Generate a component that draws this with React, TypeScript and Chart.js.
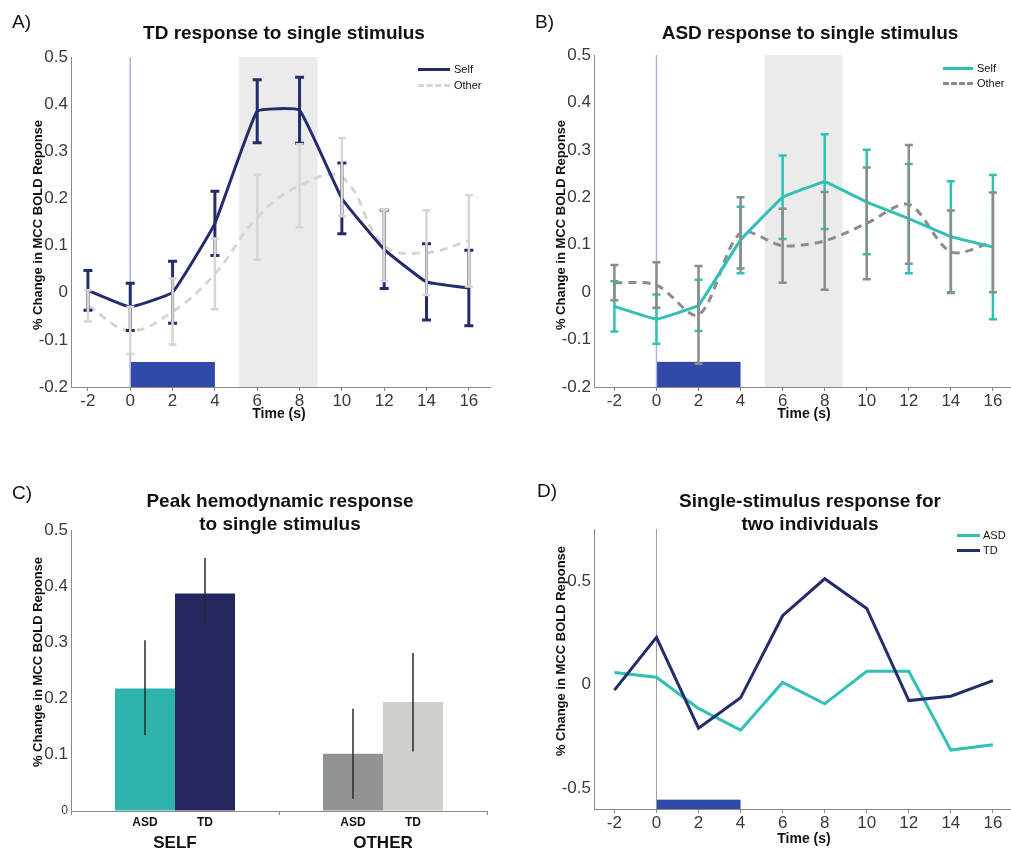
import React, { useEffect, useRef } from 'react';
import { Chart, registerables } from 'chart.js';
Chart.register(...registerables);

const FONT = "'Liberation Sans', Arial, sans-serif";
const W = 1011;
const H = 850;

// ---------- data ----------
const timeSec = [-2, 0, 2, 4, 6, 8, 10, 12, 14, 16];
const timeTicks = [-2, 0, 2, 4, 6, 8, 10, 12, 14, 16];

const tdSelf = [0.005, -0.03, 0.001, 0.147, 0.385, 0.387, 0.2, 0.092, 0.023, 0.01];
const tdSelfErr = [0.042, 0.05, 0.066, 0.068, 0.067, 0.07, 0.075, 0.083, 0.081, 0.08];
const tdOther = [-0.028, -0.08, -0.04, 0.04, 0.16, 0.227, 0.245, 0.1, 0.085, 0.11];
const tdOtherErr = [0.033, 0.05, 0.07, 0.075, 0.09, 0.088, 0.083, 0.075, 0.09, 0.097];

const asdSelf = [-0.03, -0.057, -0.028, 0.11, 0.2, 0.233, 0.19, 0.155, 0.117, 0.095];
const asdSelfErr = [0.053, 0.052, 0.054, 0.07, 0.088, 0.1, 0.11, 0.115, 0.117, 0.152];
const asdOther = [0.02, 0.015, -0.048, 0.125, 0.098, 0.108, 0.145, 0.185, 0.085, 0.105];
const asdOtherErr = [0.037, 0.048, 0.103, 0.075, 0.078, 0.103, 0.118, 0.125, 0.087, 0.105];

const groupYTicks = [-0.2, -0.1, 0, 0.1, 0.2, 0.3, 0.4, 0.5];

const peakGroups = ['SELF', 'OTHER'];
const peakSubLabels = ['ASD', 'TD'];
const peakAsd = [0.218, 0.102];
const peakTd = [0.387, 0.194];
const peakAsdLow = [0.135, 0.022];
const peakAsdHigh = [0.304, 0.182];
const peakTdLow = [0.328, 0.106];
const peakTdHigh = [0.45, 0.281];
const peakYTicks = [0, 0.1, 0.2, 0.3, 0.4, 0.5];

const indivAsd = [0.058, 0.035, -0.115, -0.22, 0.01, -0.093, 0.064, 0.064, -0.316, -0.29];
const indivTd = [-0.027, 0.228, -0.21, -0.064, 0.332, 0.51, 0.367, -0.077, -0.056, 0.019];
const indivYTicks = [-0.5, 0, 0.5];

const stimulusWindow = [0, 4];
const peakWindow = [5.15, 8.85];

// ---------- colours ----------
const NAVY = '#242d6c';
const TEAL = '#2fc1b5';
const LIGHT_OTHER = '#d8d6cf';
const GRAY_OTHER = '#8c8c8c';
const SHADE = '#ebebeb';
const STIM = '#3149a9';
const ZERO_AB = '#aab3dc';
const AXIS = '#8a8a8a';
const TICK_COL = '#3a3a3a';
const TEAL_BAR = '#2eb3ad';
const NAVY_BAR = '#25285f';
const GRAY_BAR = '#8f9393';
const LIGHT_BAR = '#d2cec9';

type Rect = { l: number; t: number; r: number; b: number };
const Y_AXIS_W = 60;

function pad(area: Rect, xh: number) {
  return { left: area.l - Y_AXIS_W, top: area.t, right: W - area.r, bottom: H - area.b - xh };
}

const fmt = (v: number) => String(Math.round(v * 10) / 10);

function pts(xs: number[], ys: number[]) {
  return xs.map((x, i) => ({ x, y: ys[i] }));
}

type ErrSet = { mean: number[]; err: number[]; color: string; width: number; cap: number };

function errorBarPlugin(sets: ErrSet[]) {
  return {
    id: 'errBars',
    afterDatasetsDraw(chart: any) {
      const { ctx } = chart;
      const xs = chart.scales.x;
      const ys = chart.scales.y;
      ctx.save();
      ctx.setLineDash([]);
      sets.forEach((s) => {
        ctx.strokeStyle = s.color;
        ctx.lineWidth = s.width;
        timeSec.forEach((t, i) => {
          const px = xs.getPixelForValue(t);
          const top = ys.getPixelForValue(s.mean[i] + s.err[i]);
          const bot = ys.getPixelForValue(s.mean[i] - s.err[i]);
          ctx.beginPath();
          ctx.moveTo(px, top);
          ctx.lineTo(px, bot);
          ctx.moveTo(px - s.cap / 2, top);
          ctx.lineTo(px + s.cap / 2, top);
          ctx.moveTo(px - s.cap / 2, bot);
          ctx.lineTo(px + s.cap / 2, bot);
          ctx.stroke();
        });
      });
      ctx.restore();
    },
  };
}

function backgroundPlugin(o: { shade: boolean; zeroColor: string; zeroWidth: number; stimTop: number }) {
  return {
    id: 'bgMarks',
    beforeDatasetsDraw(chart: any) {
      const { ctx, chartArea } = chart;
      const xs = chart.scales.x;
      const ys = chart.scales.y;
      ctx.save();
      if (o.shade) {
        const a = xs.getPixelForValue(peakWindow[0]);
        const b = xs.getPixelForValue(peakWindow[1]);
        ctx.fillStyle = SHADE;
        ctx.fillRect(a, chartArea.top, b - a, chartArea.bottom - chartArea.top);
      }
      const s0 = xs.getPixelForValue(stimulusWindow[0]);
      const s1 = xs.getPixelForValue(stimulusWindow[1]);
      const st = ys.getPixelForValue(o.stimTop);
      ctx.fillStyle = STIM;
      ctx.fillRect(s0, st, s1 - s0, chartArea.bottom - st);
      ctx.strokeStyle = o.zeroColor;
      ctx.lineWidth = o.zeroWidth;
      ctx.beginPath();
      ctx.moveTo(s0, chartArea.top);
      ctx.lineTo(s0, chartArea.bottom);
      ctx.stroke();
      ctx.restore();
    },
  };
}

function timeScales(xmin: number, xmax: number, ymin: number, ymax: number, yTicks: number[]) {
  return {
    x: {
      type: 'linear',
      min: xmin,
      max: xmax,
      afterBuildTicks: (s: any) => {
        s.ticks = timeTicks.map((v) => ({ value: v }));
      },
      afterFit: (s: any) => {
        s.height = 30;
      },
      grid: { drawOnChartArea: false, drawTicks: true, tickLength: 4, color: AXIS },
      border: { color: AXIS, width: 1 },
      ticks: {
        font: { family: FONT, size: 17 },
        color: TICK_COL,
        padding: 0,
        maxRotation: 0,
        autoSkip: false,
        callback: (v: number) => fmt(v),
      },
    },
    y: {
      type: 'linear',
      min: ymin,
      max: ymax,
      afterBuildTicks: (s: any) => {
        s.ticks = yTicks.map((v) => ({ value: v }));
      },
      afterFit: (s: any) => {
        s.width = Y_AXIS_W;
      },
      grid: { drawOnChartArea: false, drawTicks: false },
      border: { color: AXIS, width: 1 },
      ticks: {
        font: { family: FONT, size: 17 },
        color: TICK_COL,
        padding: 3,
        callback: (v: number) => fmt(v),
      },
    },
  };
}

function lineDs(ys: number[], color: string, dashed: boolean, tension: number, order: number) {
  return {
    data: pts(timeSec, ys),
    borderColor: color,
    backgroundColor: color,
    borderWidth: 3,
    borderDash: dashed ? [8, 6] : [],
    pointRadius: 0,
    tension,
    fill: false,
    order,
  };
}

const baseOpts = {
  responsive: false,
  animation: false,
  devicePixelRatio: 1,
  events: [],
};

function configA() {
  const area = { l: 71, t: 57, r: 490, b: 387 };
  return {
    type: 'line',
    data: {
      datasets: [
        lineDs(tdSelf, NAVY, false, 0.1, 1),
        lineDs(tdOther, LIGHT_OTHER, true, 0.4, 2),
      ],
    },
    options: {
      ...baseOpts,
      layout: { padding: pad(area, 30) },
      plugins: { legend: { display: false }, tooltip: { enabled: false } },
      scales: timeScales(-2.8, 17, -0.2, 0.5, groupYTicks),
    },
    plugins: [
      backgroundPlugin({ shade: true, zeroColor: ZERO_AB, zeroWidth: 1.5, stimTop: -0.147 }),
      errorBarPlugin([
        { mean: tdSelf, err: tdSelfErr, color: NAVY, width: 3, cap: 9 },
        { mean: tdOther, err: tdOtherErr, color: LIGHT_OTHER, width: 2.5, cap: 8 },
      ]),
    ],
  };
}

function configB() {
  const area = { l: 594, t: 55, r: 1011, b: 387 };
  return {
    type: 'line',
    data: {
      datasets: [
        lineDs(asdSelf, TEAL, false, 0.05, 1),
        lineDs(asdOther, GRAY_OTHER, true, 0.3, 2),
      ],
    },
    options: {
      ...baseOpts,
      layout: { padding: pad(area, 30) },
      plugins: { legend: { display: false }, tooltip: { enabled: false } },
      scales: timeScales(-2.97, 16.86, -0.2, 0.5, groupYTicks),
    },
    plugins: [
      backgroundPlugin({ shade: true, zeroColor: ZERO_AB, zeroWidth: 1.5, stimTop: -0.147 }),
      errorBarPlugin([
        { mean: asdSelf, err: asdSelfErr, color: TEAL, width: 2.5, cap: 8 },
        { mean: asdOther, err: asdOtherErr, color: GRAY_OTHER, width: 2.5, cap: 8 },
      ]),
    ],
  };
}

function configD() {
  const area = { l: 594, t: 529, r: 1011, b: 809 };
  return {
    type: 'line',
    data: {
      datasets: [
        lineDs(indivAsd, TEAL, false, 0, 2),
        lineDs(indivTd, NAVY, false, 0, 1),
      ],
    },
    options: {
      ...baseOpts,
      layout: { padding: pad(area, 30) },
      plugins: { legend: { display: false }, tooltip: { enabled: false } },
      scales: timeScales(-2.97, 16.86, -0.6, 0.75, indivYTicks),
    },
    plugins: [backgroundPlugin({ shade: false, zeroColor: '#9a9a9a', zeroWidth: 1, stimTop: -0.555 })],
  };
}

function configC() {
  const area = { l: 71, t: 530, r: 487, b: 811 };
  const peakBarPlugin = {
    id: 'peakBars',
    afterDatasetsDraw(chart: any) {
      const { ctx } = chart;
      const ys = chart.scales.y;
      const lows = [peakAsdLow, peakTdLow];
      const highs = [peakAsdHigh, peakTdHigh];
      ctx.save();
      ctx.strokeStyle = '#2a2a2a';
      ctx.lineWidth = 1.5;
      [0, 1].forEach((d) => {
        const meta = chart.getDatasetMeta(d);
        meta.data.forEach((bar: any, j: number) => {
          ctx.beginPath();
          ctx.moveTo(bar.x, ys.getPixelForValue(highs[d][j]));
          ctx.lineTo(bar.x, ys.getPixelForValue(lows[d][j]));
          ctx.stroke();
        });
      });
      ctx.fillStyle = '#111';
      ctx.font = `bold 12px ${FONT}`;
      ctx.textAlign = 'center';
      ctx.textBaseline = 'middle';
      [0, 1].forEach((d) => {
        const meta = chart.getDatasetMeta(d);
        meta.data.forEach((bar: any) => {
          ctx.fillText(peakSubLabels[d], bar.x, 823);
        });
      });
      ctx.restore();
    },
  };
  return {
    type: 'bar',
    data: {
      labels: peakGroups,
      datasets: [
        {
          label: peakSubLabels[0],
          data: peakAsd,
          backgroundColor: [TEAL_BAR, GRAY_BAR],
          categoryPercentage: 0.577,
          barPercentage: 1,
          borderWidth: 0,
        },
        {
          label: peakSubLabels[1],
          data: peakTd,
          backgroundColor: [NAVY_BAR, LIGHT_BAR],
          categoryPercentage: 0.577,
          barPercentage: 1,
          borderWidth: 0,
        },
      ],
    },
    options: {
      ...baseOpts,
      layout: { padding: pad(area, 45) },
      plugins: { legend: { display: false }, tooltip: { enabled: false } },
      scales: {
        x: {
          type: 'category',
          afterFit: (s: any) => {
            s.height = 45;
          },
          grid: { offset: true, drawOnChartArea: false, drawTicks: true, tickLength: 4, color: AXIS },
          border: { color: AXIS, width: 1 },
          ticks: {
            font: { family: FONT, size: 17, weight: 'bold' },
            color: '#111',
            padding: 18,
            maxRotation: 0,
          },
        },
        y: {
          type: 'linear',
          min: 0,
          max: 0.5,
          afterBuildTicks: (s: any) => {
            s.ticks = peakYTicks.map((v) => ({ value: v }));
          },
          afterFit: (s: any) => {
            s.width = Y_AXIS_W;
          },
          grid: { drawOnChartArea: false, drawTicks: false },
          border: { color: AXIS, width: 1 },
          ticks: {
            font: (c: any) => ({ family: FONT, size: c.tick && c.tick.value === 0 ? 12 : 17 }),
            color: TICK_COL,
            padding: 3,
            callback: (v: number) => fmt(v),
          },
        },
      },
    },
    plugins: [peakBarPlugin],
  };
}

function ChartLayer({ make }: { make: () => any }) {
  const ref = useRef<HTMLCanvasElement>(null);
  useEffect(() => {
    const chart = new Chart(ref.current as HTMLCanvasElement, make() as any);
    return () => chart.destroy();
  }, []);
  return (
    <canvas
      ref={ref}
      width={W}
      height={H}
      style={{ position: 'absolute', left: 0, top: 0, width: W, height: H }}
    />
  );
}

function Label(props: {
  x: number;
  y: number;
  size: number;
  bold?: boolean;
  rotate?: boolean;
  left?: boolean;
  children: React.ReactNode;
}) {
  const { x, y, size, bold, rotate, left, children } = props;
  return (
    <div
      style={{
        position: 'absolute',
        left: x,
        top: y,
        transform: `${left ? 'translate(0,-50%)' : 'translate(-50%,-50%)'}${rotate ? ' rotate(-90deg)' : ''}`,
        font: `${bold ? 'bold ' : ''}${size}px ${FONT}`,
        lineHeight: 1,
        whiteSpace: 'nowrap',
        color: '#111',
      }}
    >
      {children}
    </div>
  );
}

function LegendLine(props: { x: number; y: number; w: number; color: string; dashed?: boolean }) {
  return (
    <div
      style={{
        position: 'absolute',
        left: props.x,
        top: props.y - 1.5,
        width: props.w,
        height: 0,
        borderTop: `3px ${props.dashed ? 'dashed' : 'solid'} ${props.color}`,
      }}
    />
  );
}

const Y_TITLE = '% Change in MCC BOLD Reponse';

export default function App() {
  return (
    <div
      style={{
        position: 'absolute',
        left: 0,
        top: 0,
        width: W,
        height: H,
        background: '#fff',
        overflow: 'hidden',
      }}
    >
      <ChartLayer make={configA} />
      <ChartLayer make={configB} />
      <ChartLayer make={configC} />
      <ChartLayer make={configD} />

      <Label x={12} y={21} size={19} left>A)</Label>
      <Label x={535} y={21} size={19} left>B)</Label>
      <Label x={12} y={492} size={19} left>C)</Label>
      <Label x={537} y={490} size={19} left>D)</Label>

      <Label x={284} y={32} size={19} bold>TD response to single stimulus</Label>
      <Label x={810} y={32} size={19} bold>ASD response to single stimulus</Label>
      <Label x={280} y={500} size={19} bold>Peak hemodynamic response</Label>
      <Label x={280} y={523} size={19} bold>to single stimulus</Label>
      <Label x={810} y={500} size={19} bold>Single-stimulus response for</Label>
      <Label x={810} y={523} size={19} bold>two individuals</Label>

      <Label x={37} y={225} size={13} bold rotate>{Y_TITLE}</Label>
      <Label x={560} y={225} size={13} bold rotate>{Y_TITLE}</Label>
      <Label x={37} y={662} size={13} bold rotate>{Y_TITLE}</Label>
      <Label x={560} y={651} size={13} bold rotate>{Y_TITLE}</Label>

      <Label x={279} y={413} size={14} bold>Time (s)</Label>
      <Label x={804} y={413} size={14} bold>Time (s)</Label>
      <Label x={804} y={838} size={14} bold>Time (s)</Label>

      <LegendLine x={418} y={69} w={32} color={NAVY} />
      <LegendLine x={418} y={85} w={32} color={LIGHT_OTHER} dashed />
      <Label x={454} y={69} size={11} left>Self</Label>
      <Label x={454} y={85} size={11} left>Other</Label>

      <LegendLine x={943} y={68} w={30} color={TEAL} />
      <LegendLine x={943} y={83} w={30} color={GRAY_OTHER} dashed />
      <Label x={977} y={68} size={11} left>Self</Label>
      <Label x={977} y={83} size={11} left>Other</Label>

      <LegendLine x={957} y={535} w={23} color={TEAL} />
      <LegendLine x={957} y={550} w={23} color={NAVY} />
      <Label x={983} y={535} size={11} left>ASD</Label>
      <Label x={983} y={550} size={11} left>TD</Label>
    </div>
  );
}
